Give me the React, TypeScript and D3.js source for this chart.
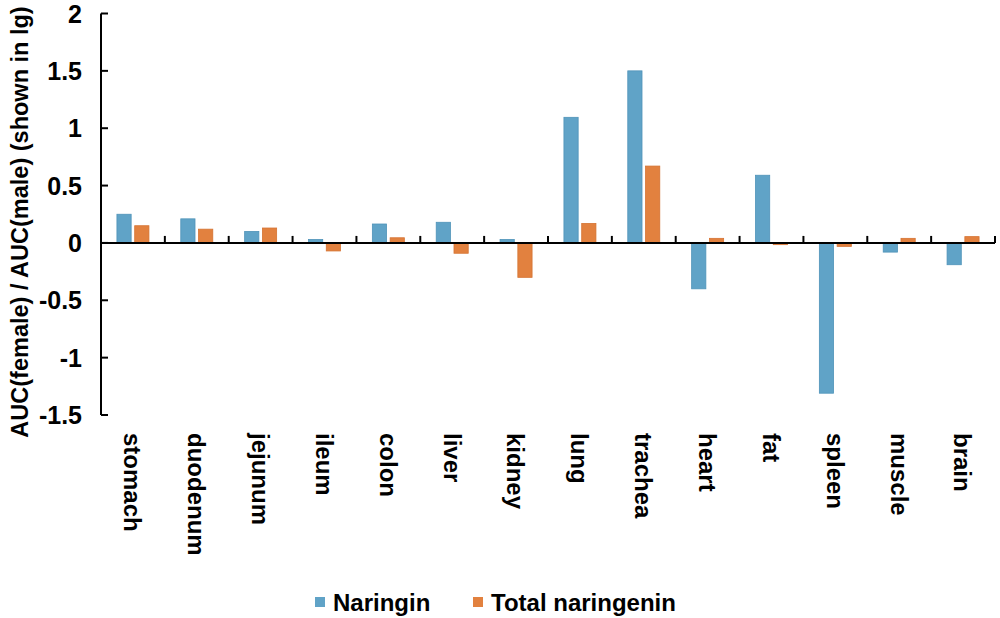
import { useEffect, useRef } from 'react';
import * as d3 from 'd3';

const categories = [
  'stomach', 'duodenum', 'jejunum', 'ileum', 'colon', 'liver', 'kidney',
  'lung', 'trachea', 'heart', 'fat', 'spleen', 'muscle', 'brain',
];
const naringin = [0.25, 0.21, 0.1, 0.03, 0.165, 0.18, 0.03, 1.095, 1.5, -0.4, 0.59, -1.31, -0.08, -0.19];
const totalNaringenin = [0.15, 0.12, 0.13, -0.07, 0.045, -0.09, -0.3, 0.17, 0.67, 0.04, -0.015, -0.03, 0.04, 0.055];
const yTicks = [-1.5, -1, -0.5, 0, 0.5, 1, 1.5, 2];
const seriesNames = ['Naringin', 'Total naringenin'];
const seriesColors = ['#60a3c7', '#e2813f'];
const seriesStrokes = ['#4f93b9', '#d57332'];

const FONT = '"Liberation Sans", Arial, sans-serif';

const App = () => {
  const ref = useRef<SVGSVGElement | null>(null);

  useEffect(() => {
    const svg = d3.select(ref.current);
    svg.selectAll('*').remove();

    const left = 101;
    const right = 995;
    const top = 13.5;
    const bottom = 415;

    const x = d3.scaleBand<string>().domain(categories).range([left, right]).paddingInner(0);
    const y = d3.scaleLinear().domain([-1.5, 2]).range([bottom, top]);
    const bw = x.bandwidth();
    const inner = d3
      .scaleBand<number>()
      .domain([0, 1])
      .range([bw / 2 - 16, bw / 2 + 16])
      .paddingInner(0.2);

    const rows = categories.map((c, i) => ({ c, vals: [naringin[i], totalNaringenin[i]] }));

    // bars
    const groups = svg
      .append('g')
      .selectAll('g')
      .data(rows)
      .enter()
      .append('g')
      .attr('transform', d => `translate(${x(d.c)},0)`);

    groups
      .selectAll('rect')
      .data(d => d.vals.map((v, k) => ({ v, k })))
      .enter()
      .append('rect')
      .attr('x', d => inner(d.k)!)
      .attr('width', inner.bandwidth())
      .attr('y', d => y(Math.max(0, d.v)))
      .attr('height', d => Math.abs(y(d.v) - y(0)))
      .attr('fill', d => seriesColors[d.k])
      .attr('stroke', d => seriesStrokes[d.k])
      .attr('stroke-width', 0.8);

    // y axis
    const yAxis = svg.append('g').attr('transform', `translate(${left},0)`);
    yAxis
      .append('line')
      .attr('y1', y(-1.5))
      .attr('y2', y(2))
      .attr('stroke', '#000')
      .attr('stroke-width', 2);
    yAxis
      .selectAll('line.tick')
      .data(yTicks)
      .enter()
      .append('line')
      .attr('class', 'tick')
      .attr('x1', 0)
      .attr('x2', 7)
      .attr('y1', d => y(d))
      .attr('y2', d => y(d))
      .attr('stroke', '#000')
      .attr('stroke-width', 2);
    yAxis
      .selectAll('text')
      .data(yTicks)
      .enter()
      .append('text')
      .attr('x', -19)
      .attr('y', d => y(d))
      .attr('dy', '0.36em')
      .attr('text-anchor', 'end')
      .attr('font-family', FONT)
      .attr('font-weight', 'bold')
      .attr('font-size', 25)
      .text(d => String(d));

    // x axis at zero
    const xAxis = svg.append('g').attr('transform', `translate(0,${y(0)})`);
    xAxis
      .append('line')
      .attr('x1', left)
      .attr('x2', right)
      .attr('stroke', '#000')
      .attr('stroke-width', 2);
    const boundaries = categories.map(c => x(c)!).concat([right]);
    xAxis
      .selectAll('line.tick')
      .data(boundaries.slice(1))
      .enter()
      .append('line')
      .attr('class', 'tick')
      .attr('x1', d => d)
      .attr('x2', d => d)
      .attr('y1', 0)
      .attr('y2', -7)
      .attr('stroke', '#000')
      .attr('stroke-width', 2);

    // category labels, rotated
    svg
      .append('g')
      .selectAll('text')
      .data(categories)
      .enter()
      .append('text')
      .attr('transform', d => `translate(${x(d)! + bw / 2},433) rotate(90)`)
      .attr('dy', '0.36em')
      .attr('text-anchor', 'start')
      .attr('font-family', FONT)
      .attr('font-weight', 'bold')
      .attr('font-size', 24)
      .text(d => d);

    // y title
    svg
      .append('text')
      .attr('transform', `translate(20,222) rotate(-90)`)
      .attr('dy', '0.36em')
      .attr('text-anchor', 'middle')
      .attr('font-family', FONT)
      .attr('font-weight', 'bold')
      .attr('font-size', 23.5)
      .text('AUC(female) / AUC(male) (shown in lg)');

    // legend
    const legendX = [315, 473];
    const legend = svg
      .append('g')
      .selectAll('g')
      .data(seriesNames)
      .enter()
      .append('g')
      .attr('transform', (d, i) => `translate(${legendX[i]},597)`);
    legend
      .append('rect')
      .attr('width', 10)
      .attr('height', 10)
      .attr('fill', (d, i) => seriesColors[i]);
    legend
      .append('text')
      .attr('x', 18)
      .attr('y', 5)
      .attr('dy', '0.36em')
      .attr('font-family', FONT)
      .attr('font-weight', 'bold')
      .attr('font-size', 24)
      .text(d => d);
  }, []);

  return (
    <svg
      ref={ref}
      width={1000}
      height={618}
      style={{ position: 'absolute', left: 0, top: 0, background: '#fff' }}
    />
  );
};

export default App;
